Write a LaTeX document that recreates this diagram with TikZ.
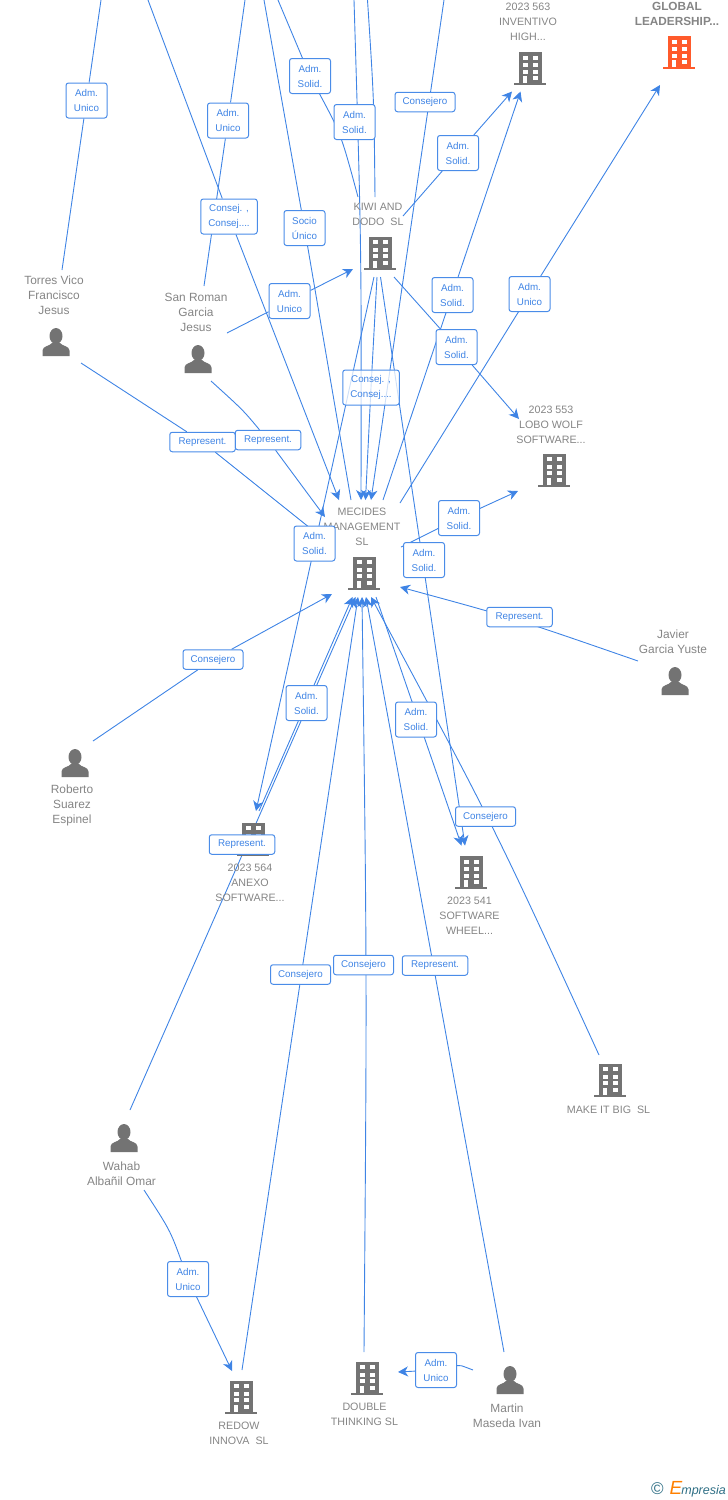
\documentclass[tikz,border=0pt]{standalone}
\usepackage{fontspec}
\setmainfont{Liberation Sans}
\usetikzlibrary{arrows.meta,backgrounds}
\definecolor{linkblue}{HTML}{3F84E5}
\definecolor{boxblue}{HTML}{4A8CE8}
\definecolor{iconorange}{HTML}{FF5A2B}
\definecolor{icongray}{HTML}{737373}
\definecolor{textgray}{HTML}{858585}
\definecolor{logoteal}{HTML}{2F6F85}
\tikzset{
	link/.style={linkblue,line width=0.9pt},
	linkto/.style={link,-{Stealth[length=10pt,width=10pt,inset=3pt]}},
	txt/.style={font=\fontsize{10.7}{15}\selectfont,text=textgray,align=center,inner sep=0pt},
	txtperson/.style={txt,font=\fontsize{11.9}{15}\selectfont},
	role/.style={draw=boxblue,line width=1pt,fill=white,rounded corners=2.5pt,text=linkblue,align=center,inner sep=0pt,font=\fontsize{9.8}{15}\selectfont,minimum width=41pt,minimum height=35pt},
	roleone/.style={role,minimum width=60pt,minimum height=19.5pt},
	rolerep/.style={role,minimum width=65.5pt,minimum height=19.5pt},
	rolewide/.style={role,minimum width=56.5pt},
	iconbox/.style={inner sep=0pt,minimum width=32pt,minimum height=34pt},
	building/.pic={
		\fill[pic actions] (-11.5,-16.5) rectangle (11.5,14.5);
		\fill[pic actions] (-16,14.5) rectangle (16,16.5);
		\foreach \wx in {-7.5,2.5}
			\foreach \wy in {-12.7,-5.2,1.3}
				\fill[white] (\wx,\wy) rectangle +(5,3.8);
		\fill[white] (2.5,7.8) rectangle +(5,3.8);
		\fill[white] (-7.5,7.8) rectangle (-3,14.5);
	},
	person/.pic={
		\fill[pic actions] (0,-6) ellipse (6.5 and 8);
		\fill[pic actions] (-13.5,14) -- (-13.5,8.5) .. controls (-13.5,4) and (-6,4) .. (-4,1) -- (4,1) .. controls (6,4) and (13.5,4) .. (13.5,8.5) -- (13.5,14) -- cycle;
	}
}
\begin{document}
\begin{tikzpicture}[x=1pt,y=-1pt]
\useasboundingbox (0,0) rectangle (728,1500);

% Companies and people
\foreach \n/\x/\y in {inventivo/530/68.5,kiwi/380/253,lobo/554/470,mecides/364/573,anexo/253/839,wheel/471/872.5,makeit/610/1080,redow/241/1397,double/367/1378}{
	\node [iconbox] (\n) at (\x,\y) {};
	\pic [fill=icongray] at (\n) {building};
}
\node [iconbox] (global) at (679,52.5) {};
\pic [fill=iconorange] at (global) {building};
\foreach \n/\x/\y in {torres/56/342,sanroman/198/359,javier/675/681,roberto/75/763,wahab/124/1138,martin/510/1380}{
	\node [iconbox] (\n) at (\x,\y) {};
	\pic [fill=icongray] at (\n) {person};
}

% Names beside the icons
\node [txt,font=\fontsize{11.8}{15}\selectfont\bfseries] (globaltxt) at (677,14) {GLOBAL\\LEADERSHIP...};
\node [txt] (inventivotxt) at (528,22) {2023 563\\INVENTIVO\\HIGH...};
\node [txt] (kiwitxt) at (378,214.5) {KIWI AND\\DODO\ \ SL};
\node [txt] (lobotxt) at (551,425) {2023 553\\LOBO WOLF\\SOFTWARE...};
\node [txt] (mecidestxt) at (362,527) {MECIDES\\MANAGEMENT\\SL};
\node [txtperson] (torrestxt) at (54,295) {Torres Vico\\Francisco\\Jesus};
\node [txtperson] (sanromantxt) at (196,312) {San Roman\\Garcia\\Jesus};
\node [txtperson] (javiertxt) at (673,641.5) {Javier\\Garcia Yuste};
\node [txtperson] (robertotxt) at (72,805) {Roberto\\Suarez\\Espinel};
\node [txt] (anexotxt) at (250,883) {2023 564\\ANEXO\\SOFTWARE...};
\node [txt] (wheeltxt) at (469.5,916) {2023 541\\SOFTWARE\\WHEEL...};
\node [txt] (makeittxt) at (608.5,1110) {MAKE IT BIG\ \ SL};
\node [txtperson] (wahabtxt) at (121.5,1173.5) {Wahab\\Albañil Omar};
\node [txt] (redowtxt) at (239,1433.5) {REDOW\\INNOVA\ \ SL};
\node [txt] (doubletxt) at (364.5,1414.5) {DOUBLE\\THINKING SL};
\node [txtperson] (martintxt) at (507,1415.5) {Martin\\Maseda Ivan};

% Role boxes
\node [role] (r1) at (86.5,100.5) {Adm.\\Unico};
\node [role] (r2) at (228,120.5) {Adm.\\Unico};
\node [role] (r3) at (310,76) {Adm.\\Solid.};
\node [role] (r4) at (354.5,122) {Adm.\\Solid.};
\node [roleone] (r5) at (425,102) {Consejero};
\node [role] (r6) at (458,153) {Adm.\\Solid.};
\node [rolewide] (r7) at (229,216.5) {Consej. ,\\Consej....};
\node [role] (r8) at (304.5,228) {Socio\\Único};
\node [role] (r9) at (289.5,301) {Adm.\\Unico};
\node [role] (r10) at (452.5,295) {Adm.\\Solid.};
\node [role] (r11) at (529.5,294) {Adm.\\Unico};
\node [role] (r12) at (456.5,347) {Adm.\\Solid.};
\node [rolewide,fill opacity=0.75,text opacity=1] (r13) at (371,387.5) {Consej. ,\\Consej....};
\node [rolerep] (r14) at (202.5,442) {Represent.};
\node [rolerep] (r15) at (268,440) {Represent.};
\node [role] (r16) at (314.5,543.5) {Adm.\\Solid.};
\node [role] (r17) at (459,518) {Adm.\\Solid.};
\node [role] (r18) at (424,560) {Adm.\\Solid.};
\node [rolerep] (r19) at (519.5,617) {Represent.};
\node [roleone] (r20) at (213,659.5) {Consejero};
\node [role] (r21) at (306.5,703) {Adm.\\Solid.};
\node [role] (r22) at (416,719.5) {Adm.\\Solid.};
\node [roleone] (r23) at (485.5,816.5) {Consejero};
\node [rolerep] (r24) at (242,844.5) {Represent.};
\node [roleone] (r25) at (300.5,974.5) {Consejero};
\node [roleone] (r26) at (363.5,965) {Consejero};
\node [rolerep] (r27) at (435,965.5) {Represent.};
\node [role] (r28) at (188,1279) {Adm.\\Unico};
\node [role] (r29) at (436,1370) {Adm.\\Unico};

\node [anchor=east,inner sep=0pt,text=logoteal] (logo) at (726,1489) {{\fontsize{17}{17}\selectfont ©}\hspace{6pt}{\fontsize{19}{19}\selectfont\itshape\textcolor{orange}{E}}\hspace{-1pt}{\fontsize{12.5}{14}\selectfont\itshape mpresia}};

% Ends of the lines that leave the picture at the top
\coordinate (top1) at (101,0);
\coordinate (top2) at (148,0);
\coordinate (top3) at (245,0);
\coordinate (top4) at (264,0);
\coordinate (top5) at (278,0);
\coordinate (top6) at (354,0);
\coordinate (top7) at (367.5,0);
\coordinate (top8) at (444,0);

% Connectors go under all the nodes
\begin{scope}[on background layer]
\draw [link] ([shift={(6,-72)}]torres.center) -- (r1) -- (top1);
\draw [link] ([shift={(6,-73)}]sanroman.center) -- (r2) -- (top3);
\draw [linkto] (top2) -- (r7) -- ([shift={(-25,-73)}]mecides.center);
\draw [link] (top4) -- (r8) -- ([shift={(-13,-73)}]mecides.center);
\draw [link] (top5) -- (r3) .. controls (341,134) .. ([shift={(-22,-56)}]kiwi.center);
\draw [linkto] (top6) .. controls (361.5,248) .. ([shift={(-3,-73)}]mecides.center);
\draw [link] (top7) .. controls (374,100) .. ([shift={(-5,-56)}]kiwi.center);
\draw [linkto] (top8) -- ([shift={(7,-73)}]mecides.center);

% From KIWI AND DODO
\draw [linkto] ([shift={(23,-37)}]kiwi.center) -- (r6) -- ([shift={(-18,23)}]inventivo.center);
\draw [linkto] ([shift={(-6,24)}]kiwi.center) -- ([shift={(3,-28)}]anexo.center);
\draw [linkto] ([shift={(-3,24)}]kiwi.center) -- (r13.center) -- ([shift={(1.5,-73)}]mecides.center);
\draw [linkto] ([shift={(0.5,24)}]kiwi.center) -- ([shift={(-6,-27)}]wheel.center);
\draw [linkto] ([shift={(14,24)}]kiwi.center) -- (r12) -- ([shift={(-35,-51)}]lobo.center);
\draw [linkto] ([shift={(29,-26)}]sanroman.center) -- (r9) -- ([shift={(-27,16)}]kiwi.center);

% Around MECIDES MANAGEMENT
\draw [linkto] ([shift={(19,-73)}]mecides.center) -- ([shift={(-9.5,23)}]inventivo.center);
\draw [linkto] ([shift={(36,-70)}]mecides.center) -- (r11) -- ([shift={(-19,32.5)}]global.center);
\draw [linkto] ([shift={(37,-26)}]mecides.center) -- (r17) -- ([shift={(-36,21)}]lobo.center);
\draw [link] ([shift={(25,21)}]torres.center) -- (r14) -- ([shift={(-44,-37)}]mecides.center);
\draw [linkto] ([shift={(13,22)}]sanroman.center) .. controls (243,410) .. (r15) -- ([shift={(-39,-56)}]mecides.center);
\draw [linkto] ([shift={(18,-22)}]roberto.center) -- (r20) -- ([shift={(-32,21)}]mecides.center);
\draw [linkto] ([shift={(-37,-20)}]javier.center) .. controls (514,618) .. ([shift={(36,14)}]mecides.center);
\draw [linkto] ([shift={(6,-28)}]anexo.center) -- ([shift={(-11.5,24)}]mecides.center);
\draw [linkto] ([shift={(6,-28)}]wahab.center) -- ([shift={(-8.5,24)}]mecides.center);
\draw [linkto] ([shift={(1,-27)}]redow.center) -- ([shift={(-6,24)}]mecides.center);
\draw [linkto] ([shift={(-3,-26)}]double.center) .. controls (367,975) .. ([shift={(-2,24)}]mecides.center);
\draw [linkto] ([shift={(-6,-28)}]martin.center) -- ([shift={(2,24)}]mecides.center);
\draw [linkto] ([shift={(-11,-25)}]makeit.center) .. controls (494,826) .. ([shift={(7,24)}]mecides.center);
\draw [linkto] ([shift={(12,24)}]mecides.center) -- ([shift={(-9.5,-27)}]wheel.center);

% The small ones at the bottom
\draw [linkto] ([shift={(20,52)}]wahab.center) .. controls (170,1230) .. (r28) -- ([shift={(-9,-26)}]redow.center);
\draw [linkto] ([shift={(-37,-10)}]martin.center) .. controls (460,1365) .. (r29) -- ([shift={(31,-6)}]double.center);
\end{scope}

\end{tikzpicture}
\end{document}
